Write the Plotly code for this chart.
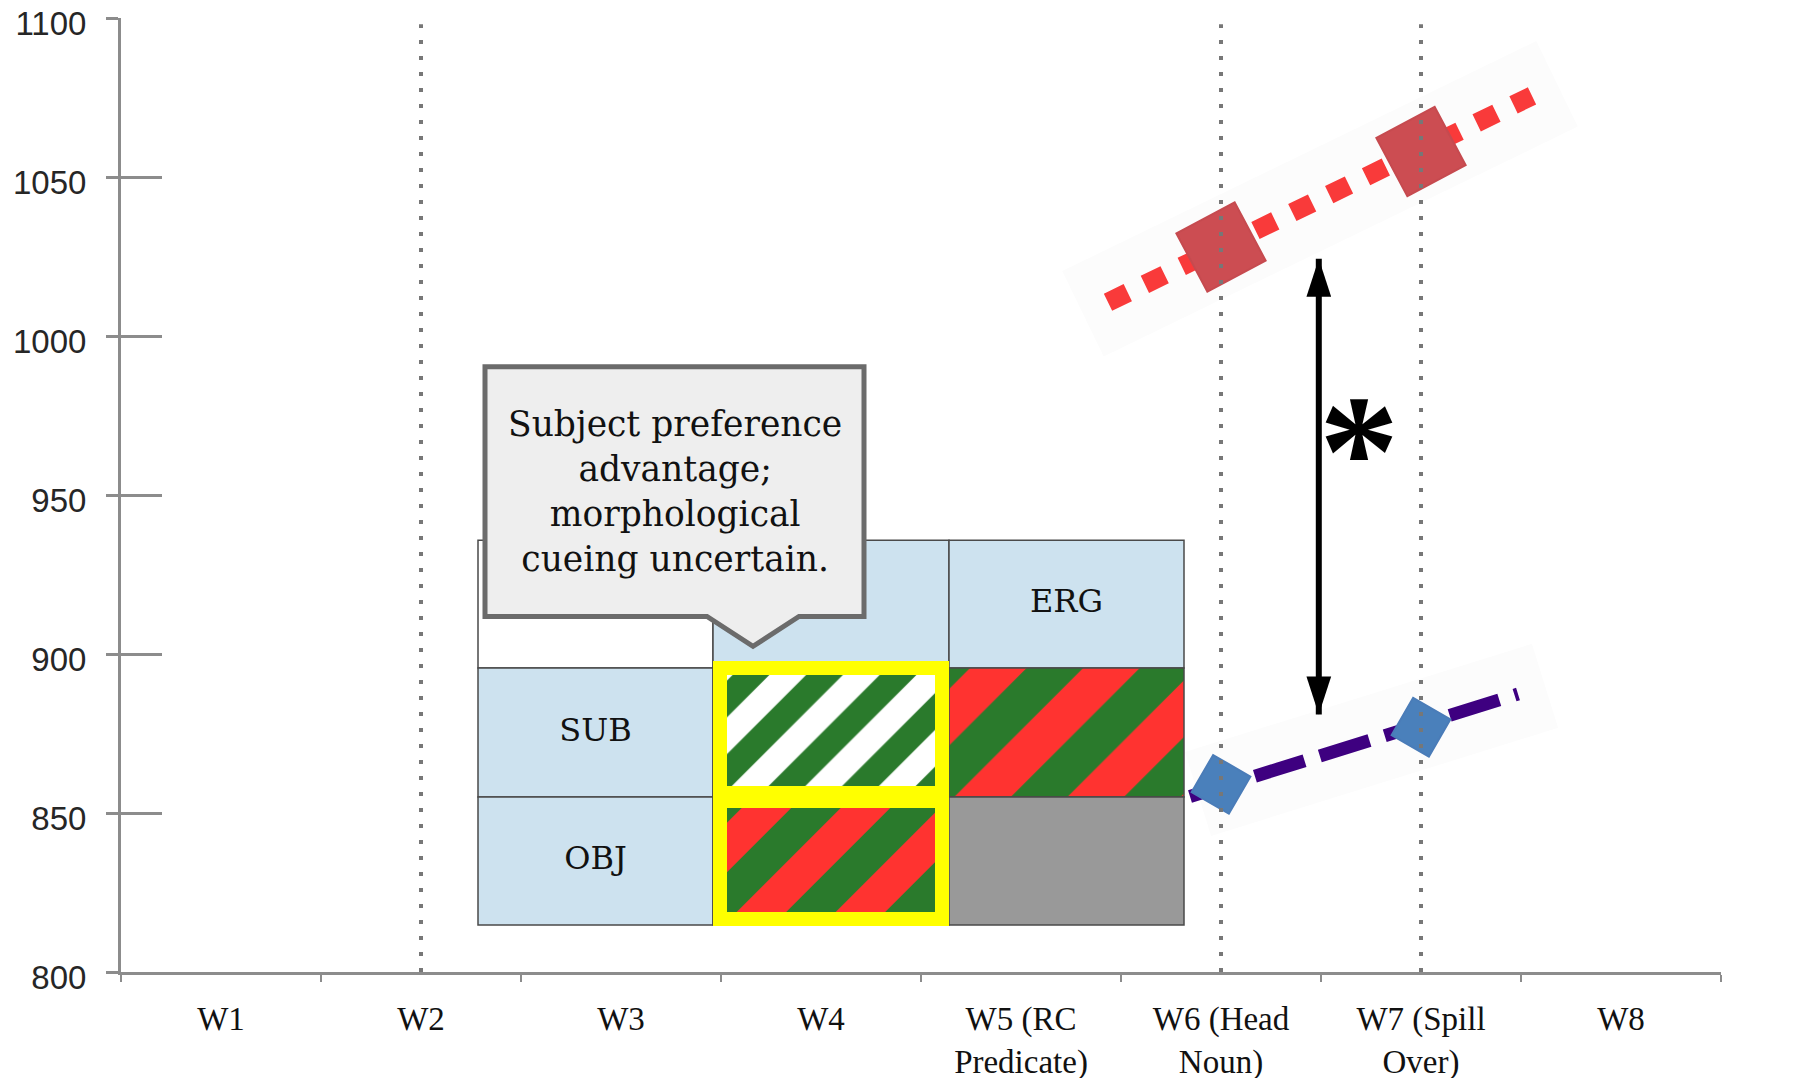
import plotly.graph_objects as go

# =========================
# DATOS
# =========================
word_keys = ["W1", "W2", "W3", "W4", "W5", "W6", "W7", "W8"]
word_labels = ["W1", "W2", "W3", "W4", "W5 (RC<br>Predicate)", "W6 (Head<br>Noun)",
               "W7 (Spill<br>Over)", "W8"]
y_ticks = [800, 850, 900, 950, 1000, 1050, 1100]

dotted_words = ["W2", "W6", "W7"]

# serie roja (punteada, cuadrados) y serie azul (discontinua, rombos)
red_words = ["W6", "W7"]
red_values = [1028, 1058]
blue_words = ["W6", "W7"]
blue_values = [859, 877]

# tramos dibujados (se prolongan mas alla de los puntos)
red_line_x = [4.435, 6.555]
red_line_y = [1010.6, 1075.5]
red_band_x = [4.31, 6.68]
red_band_y = [1007.0, 1079.3]
blue_line_x = [4.845, 6.485]
blue_line_y = [855.2, 887.4]
blue_band_x = [4.885, 6.62]
blue_band_y = [856.0, 890.0]

# flecha doble y asterisco
arrow_x = [5.489, 5.489]
arrow_y = [881.0, 1024.3]
star_x = 5.69
star_y = 970.5

# tabla incrustada (filas de arriba a abajo, columnas de izquierda a derecha)
table_col_edges = [1.285, 2.46, 3.64, 4.815]
table_row_edges = [935.8, 895.6, 855.0, 814.8]
cell_fills = [
    ["white", "blue", "blue"],
    ["blue", "green_white", "red_green_w5"],
    ["blue", "red_green_w4", "grey"],
]
cell_text = [
    ["", "", "ERG"],
    ["SUB", "", ""],
    ["OBJ", "", ""],
]
highlight_cells = [(1, 1), (2, 1)]

callout_text = "Subject preference<br>advantage;<br>morphological<br>cueing uncertain."
callout_box = [1.32, 3.215, 911.8, 990.3]      # x0, x1, y0, y1
callout_tip = [2.43, 2.66, 2.89, 902.4]         # base izq, punta, base der, y punta

# =========================
# ESTILOS
# =========================
GREEN = "#2a7a2c"
RED = "#ff3330"
cell_styles = {
    "white": dict(bg="white", shape="", fg="white", size=10),
    "blue": dict(bg="#cde2ef", shape="", fg="#cde2ef", size=10),
    "grey": dict(bg="#999999", shape="", fg="#999999", size=10),
    "green_white": dict(bg=GREEN, shape="/", fg="white", size=52),
    "red_green_w4": dict(bg=RED, shape="/", fg=GREEN, size=70),
    "red_green_w5": dict(bg=RED, shape="/", fg=GREEN, size=80),
}

PX_X = 1600 / 8.0      # px por unidad en x
PX_Y = 954 / 300.0     # px por unidad en y

fig = go.Figure()

# =========================
# LINEAS PUNTEADAS VERTICALES
# =========================
dx, dy = [], []
for w in dotted_words:
    i = word_keys.index(w)
    dx += [i, i, None]
    dy += [800, 1098, None]
fig.add_trace(go.Scatter(x=dx, y=dy, yaxis="y2", mode="lines",
                         line=dict(color="#777777", width=4, dash="4px,12px"),
                         hoverinfo="skip", showlegend=False))

# =========================
# TABLA
# =========================
tx, ty, tt = [], [], []
for r in range(3):
    for c in range(3):
        st = cell_styles[cell_fills[r][c]]
        x0, x1 = table_col_edges[c], table_col_edges[c + 1]
        y1, y0 = table_row_edges[r], table_row_edges[r + 1]
        fig.add_trace(go.Bar(
            x=[(x0 + x1) / 2], y=[y1 - y0], base=[y0], width=[x1 - x0],
            marker=dict(color=st["bg"], line=dict(color="#4a4a4a", width=1.5),
                        pattern=dict(shape=st["shape"], fgcolor=st["fg"], fgopacity=1,
                                     size=st["size"], solidity=0.5, fillmode="overlay")),
            hoverinfo="skip", showlegend=False))
        if cell_text[r][c]:
            tx.append((x0 + x1) / 2)
            ty.append((y0 + y1) / 2)
            tt.append(cell_text[r][c])

# marcos amarillos
hx, hw, hb, hh = [], [], [], []
for k, (r, c) in enumerate(highlight_cells):
    x0, x1 = table_col_edges[c], table_col_edges[c + 1]
    y1, y0 = table_row_edges[r], table_row_edges[r + 1]
    x0 += 7 / PX_X
    x1 -= 7 / PX_X
    if k == 0:
        y0 += 4 / PX_Y
    else:
        y1 -= 4 / PX_Y
        y0 += 6 / PX_Y
    hx.append((x0 + x1) / 2)
    hw.append(x1 - x0)
    hb.append(y0)
    hh.append(y1 - y0)
fig.add_trace(go.Bar(
    x=hx, y=hh, base=hb, width=hw,
    marker=dict(color="rgba(0,0,0,0)", line=dict(color="#ffff00", width=14)),
    hoverinfo="skip", showlegend=False))

fig.add_trace(go.Scatter(
    x=tx, y=ty, text=tt, mode="text",
    textfont=dict(family="DejaVu Serif", size=32, color="#111111"),
    hoverinfo="skip", showlegend=False))

# =========================
# SERIES
# =========================
fig.add_trace(go.Scatter(x=red_band_x, y=red_band_y, mode="lines",
                         line=dict(color="#fcfcfc", width=95),
                         hoverinfo="skip", showlegend=False))
fig.add_trace(go.Scatter(x=blue_band_x, y=blue_band_y, mode="lines",
                         line=dict(color="#fcfcfc", width=88),
                         hoverinfo="skip", showlegend=False))

fig.add_trace(go.Scatter(x=red_line_x, y=red_line_y, mode="lines",
                         line=dict(color="#f93a3a", width=19, dash="22px,19px"),
                         hoverinfo="skip", showlegend=False))
fig.add_trace(go.Scatter(x=blue_line_x, y=blue_line_y, mode="lines",
                         line=dict(color="#3e0080", width=13, dash="52px,16px"),
                         hoverinfo="skip", showlegend=False))

fig.add_trace(go.Scatter(
    x=[word_keys.index(w) for w in red_words], y=red_values, mode="markers",
    marker=dict(symbol="square", size=66, angle=-28, color="#cc4d52",
                line=dict(color="#c64a4f", width=2)),
    name="red", showlegend=False))
fig.add_trace(go.Scatter(
    x=[word_keys.index(w) for w in blue_words], y=blue_values, mode="markers",
    marker=dict(symbol="square", size=43, angle=30, color="#4a80bb",
                line=dict(color="#4a7cb8", width=2)),
    name="blue", showlegend=False))

# flecha doble
fig.add_trace(go.Scatter(
    x=arrow_x, y=arrow_y, mode="lines+markers",
    line=dict(color="black", width=6),
    marker=dict(symbol="arrow", size=40, angle=[180, 0], color="black",
                line=dict(width=0)),
    hoverinfo="skip", showlegend=False))

fig.add_annotation(x=star_x, y=star_y, xref="x", yref="y", text="<b>*</b>", showarrow=False,
                   font=dict(family="Liberation Serif", size=160, color="black"),
                   yshift=-22)

# =========================
# CUADRO DE TEXTO
# =========================
x0, x1, y0, y1 = callout_box
tl, tp, tr, ty_tip = callout_tip
path = (f"M {x0},{y1} L {x1},{y1} L {x1},{y0} L {tr},{y0} L {tp},{ty_tip} "
        f"L {tl},{y0} L {x0},{y0} Z")
fig.add_shape(type="path", path=path, xref="x", yref="y",
              fillcolor="#eeeeee", line=dict(color="#6b6b6b", width=5), layer="above")
fig.add_annotation(x=(x0 + x1) / 2, y=(y0 + y1) / 2, xref="x", yref="y",
                   text=callout_text, showarrow=False, align="center",
                   font=dict(family="DejaVu Serif", size=34.5, color="#111111"))

# =========================
# EJES
# =========================
# la pagina deja 8 px de margen del navegador arriba y a la izquierda
AXIS_GREY = "#8c8c8c"
fig.update_layout(
    width=1790, height=1070,
    margin=dict(l=113, r=77, t=10, b=106),
    plot_bgcolor="white", paper_bgcolor="white",
    barmode="overlay",
    xaxis=dict(range=[-0.5, 7.5], tickmode="array", tickvals=list(range(8)),
               ticktext=word_labels, ticks="", showgrid=False, zeroline=False,
               showline=True, linecolor=AXIS_GREY, linewidth=3, automargin=False,
               tickfont=dict(family="Liberation Serif", size=33, color="#111111"),
               ticklabelstandoff=15, ticklabeloverflow="allow",
               minor=dict(tickmode="array", tickvals=[i - 0.5 for i in range(9)],
                          ticks="outside", ticklen=7, tickwidth=2, tickcolor=AXIS_GREY)),
    yaxis=dict(range=[800, 1100], tickmode="array", tickvals=y_ticks,
               ticks="outside", ticklen=12, tickwidth=3, tickcolor=AXIS_GREY,
               showgrid=False, zeroline=False, showline=True, automargin=False,
               linecolor=AXIS_GREY, linewidth=3, ticklabeloverflow="allow",
               tickfont=dict(family="Liberation Sans", size=33, color="#262626"),
               ticklabelstandoff=13, ticklabelshift=5),
    yaxis2=dict(range=[800, 1100], overlaying="y", side="left", tickmode="array",
                tickvals=y_ticks, ticks="inside", ticklen=41, tickwidth=3,
                tickcolor=AXIS_GREY, showticklabels=False, showgrid=False,
                zeroline=False, showline=False, automargin=False),
)

fig.write_html("out.html")
